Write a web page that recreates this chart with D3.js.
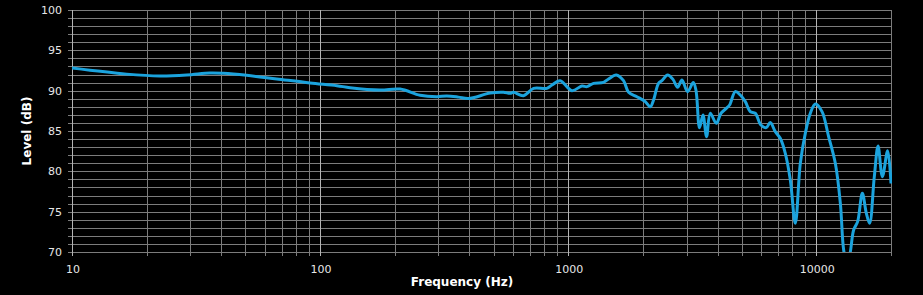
<!DOCTYPE html>
<html>
<head>
<meta charset="utf-8">
<script src="https://cdn.jsdelivr.net/npm/d3@7"></script>
<style>
  html, body { margin: 0; padding: 0; background: #000; }
  svg { display: block; }
</style>
</head>
<body>
<div class="visHolder"></div>
<script>
// frequency response
let freqs = [10, 16.6, 22.6, 29, 36, 40.7, 50.6, 66.9, 91.1, 116.8, 132, 174.6, 210, 253, 295, 324, 361, 396,
  485, 548, 583, 602, 660, 725, 820, 860, 928, 1035, 1136, 1190, 1265, 1388, 1454, 1562, 1671, 1751, 1892,
  2044, 2141, 2208, 2312, 2387, 2515, 2644, 2759, 2874, 3027, 3192, 3272, 3383, 3493, 3612, 3738, 3952,
  4128, 4337, 4472, 4714, 4938, 5173, 5419, 5675, 5984, 6286, 6523, 6833, 7157, 7499, 7857, 8228, 8620,
  9029, 9459, 9908, 10544, 11210, 11930, 12500, 12890, 13335, 13712, 14140, 14673, 15330, 15910, 16400,
  17130, 17740, 18460, 19390, 20000];
let levels = [92.8, 92.05, 91.82, 91.94, 92.19, 92.15, 91.9, 91.45, 90.95, 90.62, 90.37, 90.08, 90.2, 89.42, 89.25, 89.34, 89.2, 89.02,
  89.7, 89.8, 89.67, 89.8, 89.38, 90.29, 90.29, 90.7, 91.24, 90.0, 90.58, 90.5, 90.91, 91.03, 91.45, 91.94, 91.24, 89.8, 89.25,
  88.64, 88.0, 88.84, 90.91, 91.24, 91.94, 91.4, 90.42, 91.32, 89.88, 91.0, 90.08, 85.4, 86.98, 84.3, 87.2, 85.95,
  87.2, 87.8, 88.22, 89.88, 89.46, 88.64, 87.4, 87.2, 85.74, 85.42, 86.04, 84.92, 84.1, 82.24, 78.93, 73.56, 80.99,
  84.7, 87.2, 88.35, 87.4, 84.3, 80.99, 76.04, 70.25, 68.3, 70.0, 72.73, 73.76, 77.28, 74.8, 73.56,
  79.34, 83.14, 79.34, 82.56, 78.5];

let yTicks = [70, 75, 80, 85, 90, 95, 100];
let xTicks = [10, 100, 1000, 10000];

let width = 923;
let height = 295;
let plotLeft = 72, plotRight = 891, plotTop = 10, plotBottom = 252;

let svg = d3.select('.visHolder').append('svg')
  .attr('width', width)
  .attr('height', height)
  .style('background', '#000');

let xScale = d3.scaleLog().domain([10, 20000]).range([plotLeft, plotRight]);
let yScale = d3.scaleLinear().domain([70, 100]).range([plotBottom, plotTop]);

// grid lines: every 1 dB, every log step
let yGrid = d3.range(70, 101);
let xGrid = [];
[10, 100, 1000, 10000].forEach(d => {
  for (let k = 1; k <= 9; k++) {
    if (d * k <= 20000) xGrid.push(d * k);
  }
});
xGrid.push(20000);

svg.append('g')
  .selectAll('line')
  .data(yGrid)
  .join('line')
  .attr('x1', plotLeft - 4)
  .attr('x2', plotRight)
  .attr('y1', d => Math.round(yScale(d)) + 0.5)
  .attr('y2', d => Math.round(yScale(d)) + 0.5)
  .attr('stroke', '#7c7c7c')
  .attr('stroke-width', 1);

svg.append('g')
  .selectAll('line')
  .data(xGrid)
  .join('line')
  .attr('x1', d => Math.round(xScale(d)) + 0.5)
  .attr('x2', d => Math.round(xScale(d)) + 0.5)
  .attr('y1', plotTop)
  .attr('y2', plotBottom + 4)
  .attr('stroke', d => xTicks.includes(d) ? '#b4b4b4' : '#7c7c7c')
  .attr('stroke-width', 1);

// tick labels
svg.append('g')
  .selectAll('text')
  .data(yTicks)
  .join('text')
  .attr('x', 62)
  .attr('y', d => yScale(d) + 4)
  .attr('text-anchor', 'end')
  .attr('fill', '#e6e6e6')
  .style('font', '11px "DejaVu Sans", sans-serif')
  .text(d => d);

svg.append('g')
  .selectAll('text')
  .data(xTicks)
  .join('text')
  .attr('x', d => xScale(d) + 1)
  .attr('y', 273)
  .attr('text-anchor', 'middle')
  .attr('fill', '#e6e6e6')
  .style('font', '11px "DejaVu Sans", sans-serif')
  .text(d => d);

// axis titles
svg.append('text')
  .attr('x', 462)
  .attr('y', 286)
  .attr('text-anchor', 'middle')
  .attr('fill', '#fff')
  .style('font', 'bold 12px "DejaVu Sans", sans-serif')
  .text('Frequency (Hz)');

svg.append('text')
  .attr('transform', 'translate(31,' + ((plotTop + plotBottom) / 2) + ') rotate(-90)')
  .attr('text-anchor', 'middle')
  .attr('fill', '#fff')
  .style('font', 'bold 12px "DejaVu Sans", sans-serif')
  .text('Level (dB)');

// curve, clipped to plot area
svg.append('clipPath')
  .attr('id', 'plotClip')
  .append('rect')
  .attr('x', plotLeft)
  .attr('y', plotTop)
  .attr('width', plotRight - plotLeft + 1)
  .attr('height', plotBottom - plotTop);

let points = freqs.map((f, i) => [f, levels[i]]);

let line = d3.line()
  .x(d => xScale(d[0]))
  .y(d => yScale(d[1]))
  .curve(d3.curveCatmullRom.alpha(0.5));

svg.append('path')
  .datum(points)
  .attr('clip-path', 'url(#plotClip)')
  .attr('fill', 'none')
  .attr('stroke', '#1ba3dd')
  .attr('stroke-width', 3)
  .attr('stroke-linejoin', 'round')
  .attr('d', line);
</script>
</body>
</html>
